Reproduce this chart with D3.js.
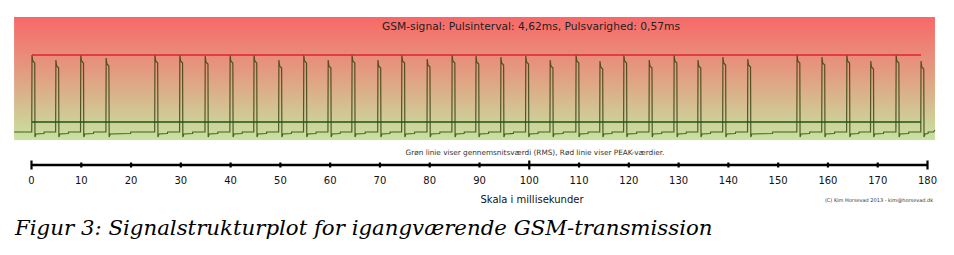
<!DOCTYPE html>
<html lang="da">
<head>
<meta charset="UTF-8">
<title>GSM-signal</title>
<script src="https://cdn.jsdelivr.net/npm/d3@7/dist/d3.min.js"></script>
<style>
  body { margin: 0; background: #fff; }
  svg { display: block; }
</style>
</head>
<body>
<div id="chart"></div>
<script>
// pulse start times (ms)
const pulseTimes = [0.2, 5.0, 10.0, 15.1, 24.9, 29.9, 35.0, 40.0, 44.8, 49.8, 54.8,
  59.7, 64.5, 69.7, 74.5, 79.6, 84.6, 89.4, 94.4, 99.4, 104.3, 109.5, 114.3,
  119.1, 124.2, 129.2, 134.0, 139.0, 144.0, 153.9, 158.9, 163.9, 168.7, 173.8, 178.8];
// pulse peak level (arbitrary units, 0 = bottom of plot)
const pulsePeaks = [85, 80, 85, 82, 85, 85, 84, 85, 85, 80, 85,
  80, 85, 80, 85, 81, 85, 84, 83, 84, 80, 85, 79,
  85, 80, 85, 80, 83, 81, 85, 83, 85, 79, 85, 79];
const peakLevel = 85;   // red line (PEAK)
const rmsLevel = 18;    // green line (RMS)
const baseLow = 6, baseHigh = 8, dipLevel = 3;

const tickValues = d3.range(0, 181, 10);
const majorTicks = [0, 100, 180];

const titleText = 'GSM-signal: Pulsinterval: 4,62ms, Pulsvarighed: 0,57ms';
const noteText = 'Grøn linie viser gennemsnitsværdi (RMS), Rød linie viser PEAK-værdier.';
const axisLabel = 'Skala i millisekunder';
const copyText = '(C) Kim Horsevad 2013 - kim@horsevad.dk';
const captionText = 'Figur 3: Signalstrukturplot for igangværende GSM-transmission';

const width = 954, height = 255;
const svg = d3.select('#chart').append('svg')
  .attr('width', width).attr('height', height);

const x = d3.scaleLinear().domain([0, 180]).range([31, 927]);
const y = d3.scaleLinear().domain([0, 123]).range([140, 17]);

const tStart = -3.4, tEnd = 181.6;

// background gradient
const defs = svg.append('defs');
const grad = defs.append('linearGradient').attr('id', 'bg')
  .attr('x1', 0).attr('y1', 0).attr('x2', 0).attr('y2', 1);
grad.append('stop').attr('offset', '0%').attr('stop-color', '#f86868');
grad.append('stop').attr('offset', '50%').attr('stop-color', '#e0a283');
grad.append('stop').attr('offset', '100%').attr('stop-color', '#c6e3a0');

svg.append('rect')
  .attr('x', x(tStart)).attr('y', y(123))
  .attr('width', x(tEnd) - x(tStart)).attr('height', y(0) - y(123))
  .attr('fill', 'url(#bg)');

// build trace from pulses
const pts = [[tStart, baseHigh]];
pulseTimes.forEach((t, i) => {
  const p = pulsePeaks[i];
  pts.push([t - 0.05, baseHigh]);
  pts.push([t, p]);
  pts.push([t + 0.15, p - 6]);
  pts.push([t + 0.55, p - 8]);
  pts.push([t + 0.6, dipLevel]);
  pts.push([t + 0.8, baseLow]);
  const next = pulseTimes[i + 1] !== undefined ? pulseTimes[i + 1] : tEnd;
  const mid = t + (next - t) * 0.5;
  pts.push([mid, baseLow + 0.5]);
  pts.push([mid + 0.05, baseHigh]);
});
pts.push([tEnd - 0.3, baseHigh]);
pts.push([tEnd, baseHigh + 2]);

const line = d3.line().x(d => x(d[0])).y(d => y(d[1]));

svg.append('path')
  .datum(pts)
  .attr('d', line)
  .attr('fill', 'none')
  .attr('stroke', '#2a3a08')
  .attr('stroke-opacity', 0.78)
  .attr('stroke-width', 1.2);

const first = pulseTimes[0], last = pulseTimes[pulseTimes.length - 1];
svg.append('line')
  .attr('x1', x(first)).attr('x2', x(last))
  .attr('y1', y(peakLevel)).attr('y2', y(peakLevel))
  .attr('stroke', '#e3232a').attr('stroke-width', 1.6);
svg.append('line')
  .attr('x1', x(first)).attr('x2', x(last))
  .attr('y1', y(rmsLevel)).attr('y2', y(rmsLevel))
  .attr('stroke', '#1c5418').attr('stroke-width', 1.6);

// texts
svg.append('text')
  .attr('x', 531).attr('y', 29.5)
  .attr('text-anchor', 'middle')
  .attr('font-family', 'DejaVu Sans, sans-serif')
  .attr('font-size', '10.7px')
  .attr('fill', '#222')
  .text(titleText);

svg.append('text')
  .attr('x', 535).attr('y', 155)
  .attr('text-anchor', 'middle')
  .attr('font-family', 'DejaVu Sans, sans-serif')
  .attr('font-size', '7.3px')
  .attr('fill', '#333')
  .text(noteText);

// axis
const axisY = 165;
const axis = d3.axisBottom(x).tickValues(tickValues).tickSize(3).tickPadding(9)
  .tickFormat(d3.format('d'));
const ag = svg.append('g').attr('transform', `translate(0,${axisY})`).call(axis);
ag.select('.domain').attr('stroke', '#000').attr('stroke-width', 2.6)
  .attr('d', `M${x(0)},0H${x(180)}`);
ag.selectAll('.tick line')
  .attr('y1', d => majorTicks.includes(d) ? -4.5 : -2.5)
  .attr('y2', d => majorTicks.includes(d) ? 4.5 : 2.5)
  .attr('stroke', '#000').attr('stroke-width', 2.2);
ag.selectAll('.tick text')
  .attr('font-family', 'DejaVu Sans, sans-serif')
  .attr('font-size', '10px')
  .attr('fill', '#111');

svg.append('text')
  .attr('x', 532).attr('y', 203)
  .attr('text-anchor', 'middle')
  .attr('font-family', 'DejaVu Sans, sans-serif')
  .attr('font-size', '10px')
  .attr('fill', '#111')
  .text(axisLabel);

svg.append('text')
  .attr('x', 879).attr('y', 201.5)
  .attr('text-anchor', 'middle')
  .attr('font-family', 'DejaVu Sans, sans-serif')
  .attr('font-size', '5px')
  .attr('fill', '#333')
  .text(copyText);

svg.append('text')
  .attr('x', 15).attr('y', 235)
  .attr('font-family', 'DejaVu Serif, serif')
  .attr('font-style', 'italic')
  .attr('font-size', '21.3px')
  .attr('fill', '#000')
  .text(captionText);
</script>
</body>
</html>
